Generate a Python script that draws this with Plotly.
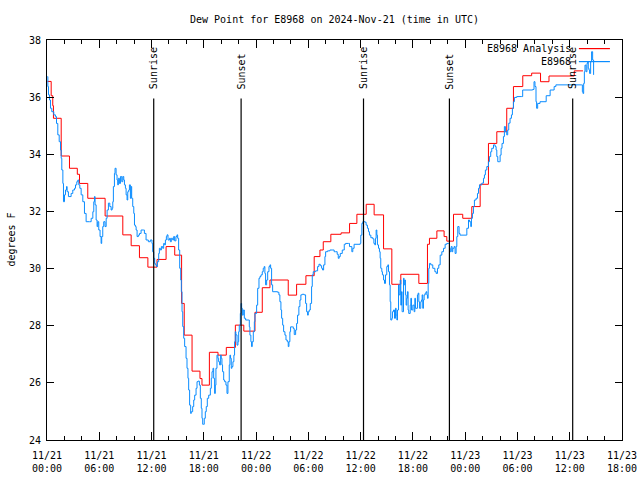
import plotly.graph_objects as go

# ---- data (hours since 2024-11-21 00:00 UTC) ----
analysis_hours = [0.05, 0.48, 0.66, 0.74, 1.63, 2.58, 3.48, 3.73, 4.68, 6.67, 8.7, 9.66, 10.61, 11.58,
                  12.63, 13.67, 14.66, 15.45, 15.75, 16.65, 17.56, 17.79, 18.64, 19.63, 20.58, 21.62,
                  22.59, 23.87, 24.71, 25.59, 27.69, 28.65, 29.72, 30.67, 31.33, 31.71, 32.58, 33.76,
                  34.73, 35.57, 36.64, 37.55, 38.63, 39.58, 40.61, 42.68, 43.67, 43.9, 44.75, 45.58,
                  45.89, 46.66, 47.72, 48.76, 49.72, 50.67, 51.63, 52.77, 53.54, 54.61, 55.63, 56.65,
                  57.62, 60.52, 61.52]
analysis_dewpt = [36.55, 36.05, 35.7, 35.26, 33.94, 33.51, 33.3, 32.98, 32.46, 31.84, 31.18, 30.8, 30.38, 30.05,
                  30.32, 30.77, 30.47, 28.78, 27.67, 26.41, 26.15, 25.92, 27.07, 26.97, 27.24, 28.02,
                  27.81, 28.47, 29.33, 29.6, 29.07, 29.45, 29.75, 30.42, 30.65, 30.94, 31.2, 31.25,
                  31.58, 31.9, 32.25, 31.88, 30.69, 29.45, 29.8, 29.48, 30.85, 31.06, 31.32, 31.12,
                  30.96, 31.9, 31.76, 32.17, 32.95, 34.38, 34.79, 35.61, 36.37, 36.75, 36.84, 36.54,
                  36.74, 36.92, 36.92]

obs_hours = [0.05, 0.1, 0.17, 0.29, 0.4, 0.55, 0.78, 0.97, 1.09, 1.24, 1.4, 1.55, 1.63, 1.7, 1.82, 1.89,
             2.01, 2.12, 2.24, 2.31, 2.46, 2.77, 2.96, 3.16, 3.27, 3.42, 3.54, 3.65, 3.77, 3.92, 4.11,
             4.3, 4.49, 4.88, 5.07, 5.26, 5.37, 5.45, 5.52, 5.64, 5.75, 5.83, 5.94, 6.09, 6.21, 6.28,
             6.4, 6.51, 6.66, 6.79, 6.9, 7.05, 7.21, 7.36, 7.47, 7.55, 7.62, 7.74, 7.81, 7.93, 8.04,
             8.12, 8.19, 8.31, 8.43, 8.58, 8.7, 8.81, 8.89, 9.0, 9.08, 9.19, 9.27, 9.38, 9.46, 9.57,
             9.65, 9.72, 9.84, 9.96, 10.04, 10.15, 10.23, 10.34, 10.49, 10.61, 10.8, 11.06, 11.18,
             11.37, 11.63, 11.86, 12.05, 12.13, 12.25, 12.36, 12.44, 12.55, 12.67, 12.82, 12.9, 13.01,
             13.13, 13.28, 13.39, 13.5, 13.59, 13.7, 13.78, 13.89, 14.05, 14.16, 14.27, 14.43, 14.54,
             14.65, 14.8, 14.92, 15.0, 15.11, 15.23, 15.35, 15.42, 15.5, 15.58, 15.69, 15.8, 15.96,
             16.07, 16.18, 16.26, 16.37, 16.49, 16.56, 16.72, 16.84, 16.95, 17.11, 17.22, 17.33,
             17.49, 17.6, 17.71, 17.79, 17.87, 17.98, 18.05, 18.17, 18.28, 18.4, 18.56, 18.75, 18.86,
             18.94, 19.05, 19.13, 19.24, 19.32, 19.39, 19.51, 19.62, 19.7, 19.81, 19.93, 20.0, 20.08,
             20.15, 20.28, 20.39, 20.54, 20.66, 20.77, 20.92, 21.0, 21.07, 21.15, 21.23, 21.34, 21.45,
             21.53, 21.61, 21.68, 21.81, 21.92, 22.0, 22.07, 22.19, 22.27, 22.34, 22.42, 22.53, 22.65,
             22.8, 23.1, 23.22, 23.29, 23.4, 23.48, 23.56, 23.68, 23.8, 23.87, 24.06, 24.18, 24.33,
             24.44, 24.56, 24.71, 24.82, 24.93, 25.01, 25.09, 25.21, 25.33, 25.48, 25.59, 25.67, 25.78,
             25.9, 26.47, 26.62, 26.73, 26.85, 26.93, 27.05, 27.16, 27.31, 27.43, 27.58, 27.69, 27.77,
             27.88, 27.96, 28.15, 28.27, 28.38, 28.54, 28.65, 28.76, 28.91, 29.03, 29.14, 29.29, 29.52,
             29.68, 29.8, 29.91, 29.99, 30.1, 30.22, 30.37, 30.45, 30.56, 30.82, 31.06, 31.21, 31.37,
             31.52, 31.63, 31.75, 31.9, 31.98, 32.2, 32.47, 32.73, 32.96, 33.11, 33.31, 33.43, 33.54,
             33.66, 33.89, 34.12, 34.27, 34.6, 34.72, 34.99, 35.1, 35.25, 35.95, 36.02, 36.14, 36.25,
             36.52, 36.63, 36.78, 36.9, 37.01, 37.17, 37.4, 37.52, 37.63, 37.7, 37.78, 37.86, 37.93,
             38.05, 38.16, 38.24, 38.31, 38.43, 38.5, 38.63, 38.74, 38.85, 39.0, 39.12, 39.2, 39.31,
             39.39, 39.46, 39.58, 39.65, 39.77, 39.89, 40.0, 40.08, 40.16, 40.23, 40.35, 40.42, 40.54,
             40.61, 40.69, 40.76, 40.92, 40.99, 41.07, 41.14, 41.22, 41.3, 41.37, 41.45, 41.52, 41.69,
             41.76, 41.84, 41.99, 42.14, 42.22, 42.29, 42.52, 42.6, 42.68, 42.75, 42.9, 42.98, 43.06,
             43.13, 43.21, 43.29, 43.41, 43.52, 43.6, 43.67, 43.75, 43.82, 43.9, 44.05, 44.28, 44.52,
             44.67, 44.82, 44.97, 45.13, 45.32, 45.51, 45.7, 45.89, 46.08, 46.2, 46.28, 46.39, 46.5,
             46.58, 46.73, 46.84, 46.96, 47.04, 47.15, 47.3, 47.41, 48.11, 48.19, 48.38, 48.49, 48.64,
             48.72, 48.83, 48.95, 49.06, 49.25, 49.41, 49.53, 49.64, 49.91, 50.1, 50.21, 50.32, 50.48,
             50.67, 50.78, 50.93, 51.05, 51.25, 51.44, 51.55, 51.63, 51.74, 51.93, 52.01, 52.12, 52.23,
             52.39, 52.5, 52.62, 52.77, 52.88, 53.0, 53.15, 53.31, 53.42, 53.54, 53.65, 53.92, 54.49,
             54.6, 55.75, 55.9, 56.01, 56.13, 56.2, 56.32, 56.59, 57.3, 57.75, 58.21, 58.41, 61.37,
             61.45, 61.52, 61.6, 61.68, 61.75, 61.87, 61.98, 62.06, 62.13, 62.21, 62.28, 62.4, 62.51,
             62.63, 62.74]
obs_dewpt = [36.72, 36.37, 36.08, 35.9, 35.61, 35.49, 35.38, 35.32, 35.08, 34.68, 34.44, 34.15, 33.86, 33.45,
             32.98, 32.34, 32.58, 32.75, 32.87, 32.69, 32.52, 32.63, 32.75, 32.81, 32.93, 33.04, 33.1,
             32.93, 32.81, 32.58, 32.34, 31.93, 31.64, 31.64, 31.76, 31.99, 32.34, 32.52, 32.23, 31.7,
             31.47, 31.64, 31.35, 31.12, 30.88, 31.12, 31.47, 31.64, 31.47, 31.76, 32.05, 32.29, 32.17,
             32.05, 32.11, 32.34, 32.87, 33.33, 33.51, 33.28, 33.1, 32.93, 33.16, 32.98, 33.22, 33.04,
             33.22, 33.1, 32.93, 32.81, 32.58, 32.4, 32.69, 32.75, 32.93, 32.46, 32.87, 32.46, 32.17,
             31.93, 31.52, 31.47, 31.35, 31.12, 31.17, 31.23, 31.35, 31.35, 31.23, 31.0, 30.94, 31.0,
             30.88, 30.59, 30.36, 30.18, 30.13, 30.07, 30.24, 30.53, 30.71, 30.65, 30.77, 30.71, 30.88,
             30.83, 31.0, 31.12, 31.18, 31.0, 31.06, 30.94, 31.06, 31.0, 31.12, 30.97, 31.12, 31.18,
             31.06, 30.65, 30.01, 29.6, 29.19, 28.49, 27.97, 27.56, 27.27, 26.86, 26.51, 26.16, 25.75,
             25.22, 24.93, 24.99, 25.17, 25.4, 25.57, 25.81, 26.04, 26.06, 25.92, 25.46, 25.11, 24.76,
             24.55, 24.55, 24.76, 24.99, 25.17, 25.46, 25.57, 25.81, 26.16, 26.39, 26.51, 26.16, 25.63,
             25.92, 26.51, 26.97, 26.86, 26.74, 26.63, 26.97, 26.86, 26.63, 26.39, 26.1, 26.04, 25.92,
             25.63, 26.04, 26.63, 26.97, 26.86, 26.51, 26.57, 26.74, 26.97, 27.44, 27.79, 27.68, 27.32,
             27.44, 27.79, 28.02, 28.43, 28.78, 28.61, 28.37, 28.55, 28.26, 28.2, 28.2, 27.96, 27.67,
             27.44, 27.27, 27.44, 27.79, 28.14, 28.43, 28.72, 29.31, 29.66, 29.72, 29.78, 29.89, 30.01,
             30.07, 29.83, 29.43, 29.6, 29.89, 30.07, 30.13, 30.01, 29.43, 29.19, 29.17, 29.08, 28.84,
             28.55, 28.26, 28.02, 27.79, 27.67, 27.5, 27.44, 27.27, 27.44, 27.79, 27.96, 27.96, 27.9,
             27.69, 27.85, 28.08, 28.37, 28.67, 28.9, 29.08, 29.1, 29.08, 28.78, 28.49, 28.37, 28.49,
             28.55, 28.78, 29.37, 29.78, 29.89, 29.92, 30.07, 30.15, 30.1, 30.01, 29.95, 30.13, 30.42,
             30.59, 30.62, 30.65, 30.65, 30.59, 30.59, 30.5, 30.36, 30.42, 30.53, 30.65, 30.85, 30.88,
             30.88, 30.77, 30.59, 30.71, 30.85, 30.88, 31.17, 31.58, 31.64, 31.62, 31.52, 31.41, 31.29,
             31.17, 31.08, 31.04, 30.88, 30.83, 31.06, 31.35, 31.17, 30.83, 30.71, 30.59, 30.36, 30.01,
             29.89, 29.78, 29.6, 29.48, 29.78, 30.07, 30.13, 29.89, 29.43, 28.84, 28.2, 28.26, 28.49,
             28.55, 28.26, 28.61, 28.37, 28.2, 28.55, 29.43, 29.08, 29.6, 28.72, 29.19, 28.49, 29.66,
             29.43, 29.6, 29.08, 28.72, 28.96, 29.19, 28.55, 28.43, 28.72, 28.96, 28.55, 28.72, 28.49,
             28.96, 28.61, 29.08, 29.14, 28.84, 28.61, 28.84, 28.9, 29.08, 28.61, 28.9, 29.08, 29.14,
             29.19, 29.08, 28.96, 29.48, 30.01, 30.18, 30.13, 30.01, 29.89, 29.83, 30.01, 30.13, 30.47,
             30.59, 30.71, 30.85, 30.88, 30.88, 30.71, 30.59, 30.77, 30.59, 30.71, 30.77, 30.53, 30.77,
             31.12, 31.47, 31.23, 31.17, 31.17, 31.41, 31.7, 31.64, 31.47, 31.76, 31.93, 32.17, 32.4,
             32.46, 32.63, 32.81, 32.93, 32.99, 33.16, 33.28, 33.45, 33.57, 33.74, 33.92, 34.09, 34.21,
             34.33, 34.27, 34.15, 33.92, 33.74, 33.74, 33.97, 34.21, 34.38, 34.62, 34.97, 34.79, 34.68,
             34.85, 35.09, 35.26, 35.38, 35.61, 35.84, 35.99, 36.02, 36.02, 36.25, 36.27, 36.54, 36.37,
             35.84, 35.61, 35.78, 35.84, 36.05, 36.25, 36.37, 36.43, 36.43, 36.19, 36.13, 36.48, 36.89,
             37.12, 36.89, 37.18, 37.24, 37.01, 36.95, 36.83, 37.24, 37.59, 37.3, 36.78]

event_hours = [12.25, 22.28, 36.33, 46.19, 60.34]
event_labels = ["Sunrise", "Sunset", "Sunrise", "Sunset", "Sunrise"]

tick_hours = [0, 6, 12, 18, 24, 30, 36, 42, 48, 54, 60, 66]
tick_labels = ["11/21<br>00:00", "11/21<br>06:00", "11/21<br>12:00", "11/21<br>18:00",
               "11/22<br>00:00", "11/22<br>06:00", "11/22<br>12:00", "11/22<br>18:00",
               "11/23<br>00:00", "11/23<br>06:00", "11/23<br>12:00", "11/23<br>18:00"]

legend_names = ["E8968 Analysis", "E8968"]
series_colors = ["#ff0000", "#0a8cff"]

FONT = "DejaVu Sans Mono"

fig = go.Figure()
fig.add_trace(go.Scatter(x=analysis_hours, y=analysis_dewpt, mode="lines", line_shape="hv",
                         line=dict(color=series_colors[0], width=1), name=legend_names[0],
                         showlegend=False, hoverinfo="skip"))
fig.add_trace(go.Scatter(x=obs_hours, y=obs_dewpt, mode="lines", line_shape="hv",
                         line=dict(color=series_colors[1], width=1), name=legend_names[1],
                         showlegend=False, hoverinfo="skip"))

# sunrise / sunset markers
for h, lab in zip(event_hours, event_labels):
    fig.add_shape(type="line", xref="x", yref="y", x0=h, x1=h, y0=24, y1=35.95,
                  line=dict(color="black", width=1.2))
    fig.add_annotation(x=h, y=36.2, xref="x", yref="y", text=lab, textangle=-90,
                       showarrow=False, xanchor="center", yanchor="bottom",
                       font=dict(family=FONT, size=10, color="black"))

# legend (gnuplot style: text then line sample)
for i, (name, col) in enumerate(zip(legend_names, series_colors)):
    yp = 0.9785 - i * 0.0325
    fig.add_annotation(x=0.9149, y=yp, xref="paper", yref="paper", text=name, showarrow=False,
                       xanchor="right", yanchor="middle", font=dict(family=FONT, size=10, color="black"))
    fig.add_shape(type="line", xref="paper", yref="paper", x0=0.925, x1=0.979, y0=yp, y1=yp,
                  line=dict(color=col, width=1.2))

fig.add_annotation(x=-0.0634, y=0.5, xref="paper", yref="paper", text="degrees F", textangle=-90,
                   showarrow=False, xanchor="center", yanchor="middle",
                   font=dict(family=FONT, size=10, color="black"))

fig.update_layout(
    width=640, height=480,
    margin=dict(l=46.5, r=18, t=40.4, b=40, autoexpand=False),
    paper_bgcolor="white", plot_bgcolor="white",
    title=dict(text="Dew Point for E8968 on 2024-Nov-21 (time in UTC)", x=0.5, xref="paper",
               y=1 - 19 / 480, yanchor="middle", font=dict(family=FONT, size=10, color="black")),
    font=dict(family=FONT, size=10, color="black"),
    showlegend=False,
    hovermode=False,
)
fig.update_xaxes(range=[0, 66], tickvals=tick_hours, ticktext=tick_labels, showgrid=False,
                 zeroline=False, showline=True, linecolor="black", linewidth=1, mirror="allticks",
                 ticks="inside", ticklen=8, tickcolor="black", tickwidth=1, ticklabelstandoff=6,
                 ticklabeloverflow="allow",
                 minor=dict(dtick=2, tick0=0, ticks="inside", ticklen=4, tickcolor="black", tickwidth=1),
                 tickfont=dict(family=FONT, size=10, color="black"))
fig.update_yaxes(range=[24, 38], dtick=2, tick0=24, showgrid=False, zeroline=False, showline=True,
                 linecolor="black", linewidth=1, mirror="allticks", ticks="inside", ticklen=7,
                 tickcolor="black", tickwidth=1, ticklabelstandoff=3,
                 tickfont=dict(family=FONT, size=10, color="black"))

# remove the default 8px page margin so the 640x480 figure fills the window exactly
fig.write_html("out.html", config={"displayModeBar": False},
               post_script="document.body.style.margin='0';document.body.style.overflow='hidden';")
